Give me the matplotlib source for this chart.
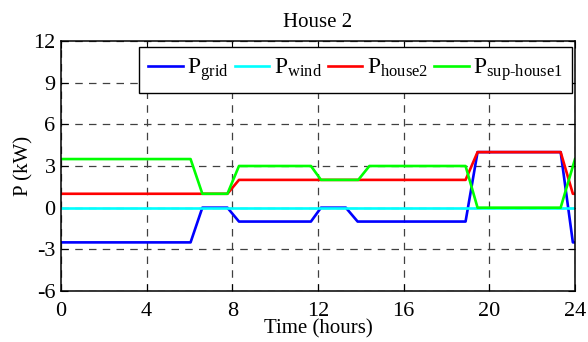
import matplotlib
matplotlib.use('Agg')
import matplotlib.pyplot as plt

plt.rcParams['font.family'] = ['Liberation Serif', 'DejaVu Serif']
plt.rcParams['mathtext.fontset'] = 'custom'
plt.rcParams['mathtext.rm'] = 'Liberation Serif'
plt.rcParams['mathtext.it'] = 'Liberation Serif'
plt.rcParams['axes.unicode_minus'] = False

# time (hours) and power (kW)
t_grid = [0, 6.05, 6.6, 7.77, 8.31, 11.67, 12.14, 13.3, 13.85, 18.89, 19.45, 23.33, 23.9, 24]
p_grid = [-2.5, -2.5, 0, 0, -1, -1, 0, 0, -1, -1, 4, 4, -2.5, -2.5]

t_wind = [0, 24]
p_wind = [0, 0]

t_house = [0, 7.77, 8.31, 18.89, 19.45, 23.33, 23.9, 24]
p_house = [1, 1, 2, 2, 4, 4, 1, 1]

t_sup = [0, 6.05, 6.6, 7.77, 8.31, 11.67, 12.14, 13.88, 14.4, 18.89, 19.45, 23.33, 24]
p_sup = [3.5, 3.5, 1, 1, 3, 3, 2, 2, 3, 3, 0, 0, 3.5]

xticks = [0, 4, 8, 12, 16, 20, 24]
yticks = [-6, -3, 0, 3, 6, 9, 12]

fs = 15
lw = 1.9

fig = plt.figure(figsize=(5.88, 3.42), dpi=100)
ax = fig.add_axes([61 / 588., 1 - 291 / 342., 514 / 588., 250 / 342.])

ax.plot(t_grid, p_grid, color='#0000ff', lw=lw, label=r'$\mathrm{P}_{\mathrm{grid}}$')
ax.plot(t_wind, p_wind, color='#00ffff', lw=lw, label=r'$\mathrm{P}_{\mathrm{wind}}$')
ax.plot(t_house, p_house, color='#ff0000', lw=lw, label=r'$\mathrm{P}_{\mathrm{house2}}$')
ax.plot(t_sup, p_sup, color='#00ff00', lw=lw, label=r'$\mathrm{P}_{\text{sup-house1}}$')

ax.set_xlim(0, 24)
ax.set_ylim(-6, 12)
ax.set_xticks(xticks)
ax.set_yticks(yticks)
ax.tick_params(direction='in', labelsize=16, top=True, right=True, length=5)
ax.tick_params(axis='x', pad=8)
ax.tick_params(axis='y', pad=4)
ax.grid(True, color='#404040', linestyle=(0, (6, 5)), linewidth=0.9)
for s in ax.spines.values():
    s.set_linewidth(1.1)

ax.set_title('House 2', fontsize=fs, pad=10)
ax.set_xlabel('Time (hours)', fontsize=fs, labelpad=-1)
ax.set_ylabel('P (kW)', fontsize=fs, labelpad=0)

leg = ax.legend(loc='upper left', bbox_to_anchor=(78 / 514., 1 - 6 / 250.), ncol=4, fontsize=17,
                handlelength=1.45, handletextpad=0.2, columnspacing=0.25,
                borderpad=0.4, borderaxespad=0, fancybox=False, framealpha=1)
leg.get_frame().set_edgecolor('black')
leg.get_frame().set_linewidth(1.0)

plt.savefig('out.png', dpi=100)
